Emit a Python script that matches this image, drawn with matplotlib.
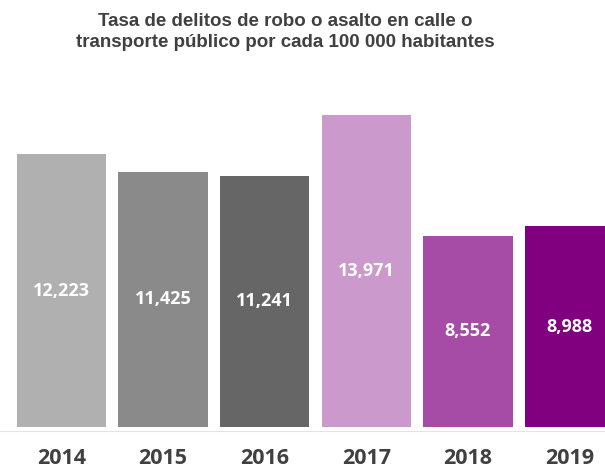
import matplotlib.pyplot as plt

# tasa por cada 100 000 habitantes
years = ['2014', '2015', '2016', '2017', '2018', '2019']
rates = [12223, 11425, 11241, 13971, 8552, 8988]
bar_colors = ['#b0b0b0', '#8a8a8a', '#666666', '#cc99cc', '#a64ca6', '#800080']

title = ('Tasa de delitos de robo o asalto en calle o\n'
         'transporte público por cada 100 000 habitantes')

fig = plt.figure(figsize=(6.05, 4.73), dpi=100)
ax = fig.add_axes([0, 46 / 473, 1, 327 / 473])

# spines first: set_position resets the tick labels
for side in ['top', 'right', 'left']:
    ax.spines[side].set_visible(False)
ax.spines['bottom'].set_position(('outward', 3))
ax.spines['bottom'].set_color('#e3e3e3')

x = list(range(len(years)))
ax.bar(x, rates, width=0.88, color=bar_colors)

for xi, v in zip(x, rates):
    ax.text(xi, v / 2, f'{v:,}', ha='center', va='center',
            color='white', fontsize=13, fontweight='bold', family='Open Sans')

ax.set_xlim(-0.605, 5.35)
ax.set_ylim(0, 14641)
ax.tick_params(axis='x', length=0, pad=12)
ax.set_xticks(x)
ax.set_xticklabels(years, fontsize=15.5, fontweight='bold', family='Open Sans',
                   color='#404040')
ax.set_yticks([])

fig.text(285 / 605, 1 - 32 / 473, title, ha='center', va='center',
         fontsize=13.5, fontweight='bold', color='#404040',
         family='Liberation Sans', linespacing=1.3)

fig.savefig('out.png', dpi=100)
